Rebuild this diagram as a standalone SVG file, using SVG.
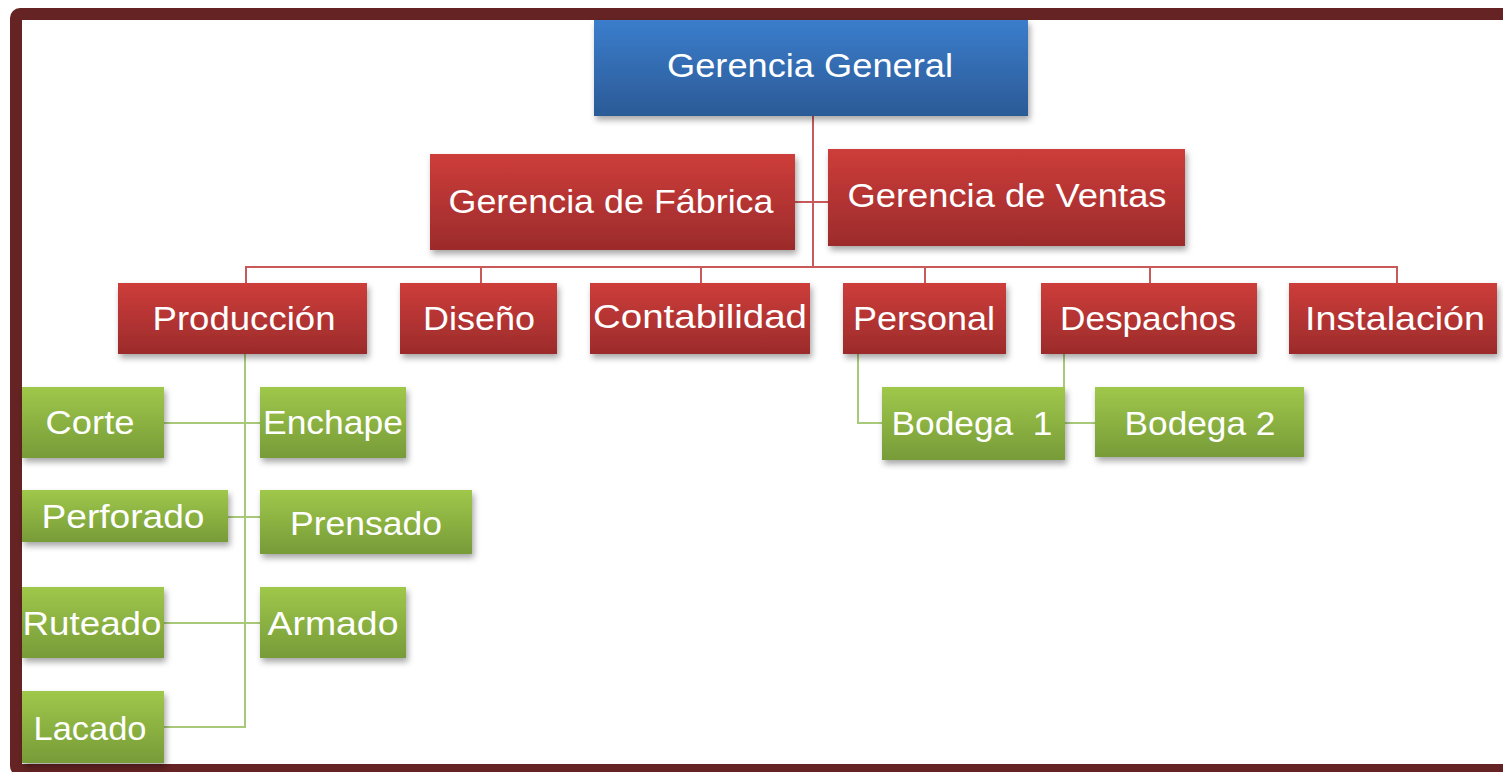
<svg xmlns="http://www.w3.org/2000/svg" width="1503" height="772" viewBox="0 0 1503 772">
<defs>
<linearGradient id="gBlue" x1="0" y1="0" x2="0" y2="1"><stop offset="0" stop-color="#3b7dcc"/><stop offset="1" stop-color="#2b5a96"/></linearGradient>
<linearGradient id="gRed" x1="0" y1="0" x2="0" y2="1"><stop offset="0" stop-color="#cd3d3a"/><stop offset="1" stop-color="#9c2b2b"/></linearGradient>
<linearGradient id="gGreen" x1="0" y1="0" x2="0" y2="1"><stop offset="0" stop-color="#9fc84b"/><stop offset="1" stop-color="#779b38"/></linearGradient>
<filter id="sh" x="-10%" y="-10%" width="125%" height="140%"><feDropShadow dx="2" dy="4" stdDeviation="3" flood-color="#000" flood-opacity="0.35"/></filter>
<style>
.t{font-family:"Liberation Sans",Arial,sans-serif;font-size:33px;fill:#ffffff;}
.red{fill:url(#gRed);filter:url(#sh);}
.blue{fill:url(#gBlue);filter:url(#sh);}
.green{fill:url(#gGreen);filter:url(#sh);}
.cr{stroke:#c95a5a;stroke-width:2;fill:none;}
.cg{stroke:#a9c97a;stroke-width:2;fill:none;}
</style>
</defs>
<rect x="0" y="0" width="1503" height="772" fill="#ffffff"/>
<rect x="16" y="14" width="1493" height="756" rx="4" fill="#ffffff" stroke="#652323" stroke-width="12"/>
<g id="connectors">
<path class="cr" d="M813 116 V267 M795 202 H828 M246 283 V267 H1397 V283 M481 267 V283 M701 267 V283 M925 267 V283 M1150 267 V283"/>
<path class="cg" d="M245 354 V727 H164 M164 423 H260 M228 517 H260 M164 623 H260 M858 354 V423 H882 M1064 354 V387 M1065 423 H1095"/>
</g>
<g id="n-gerencia-general"><rect class="blue" x="594" y="20" width="434" height="96"/><text class="t" x="810" y="77" text-anchor="middle" textLength="286" lengthAdjust="spacingAndGlyphs">Gerencia General</text></g>
<g id="n-fabrica"><rect class="red" x="430" y="154" width="365" height="96"/><text class="t" x="611" y="213" text-anchor="middle" textLength="325" lengthAdjust="spacingAndGlyphs">Gerencia de Fábrica</text></g>
<g id="n-ventas"><rect class="red" x="828" y="149" width="357" height="97"/><text class="t" x="1007" y="207" text-anchor="middle" textLength="319" lengthAdjust="spacingAndGlyphs">Gerencia de Ventas</text></g>
<g id="n-produccion"><rect class="red" x="118" y="283" width="249" height="71"/><text class="t" x="244" y="330" text-anchor="middle" textLength="183" lengthAdjust="spacingAndGlyphs">Producción</text></g>
<g id="n-diseno"><rect class="red" x="400" y="283" width="157" height="71"/><text class="t" x="479" y="330" text-anchor="middle" textLength="112" lengthAdjust="spacingAndGlyphs">Diseño</text></g>
<g id="n-contabilidad"><rect class="red" x="590" y="283" width="220" height="71"/><text class="t" x="700" y="328" text-anchor="middle" textLength="214" lengthAdjust="spacingAndGlyphs">Contabilidad</text></g>
<g id="n-personal"><rect class="red" x="843" y="283" width="163" height="71"/><text class="t" x="924" y="330" text-anchor="middle" textLength="142" lengthAdjust="spacingAndGlyphs">Personal</text></g>
<g id="n-despachos"><rect class="red" x="1041" y="283" width="216" height="71"/><text class="t" x="1148" y="330" text-anchor="middle" textLength="176" lengthAdjust="spacingAndGlyphs">Despachos</text></g>
<g id="n-instalacion"><rect class="red" x="1289" y="283" width="208" height="71"/><text class="t" x="1395" y="330" text-anchor="middle" textLength="180" lengthAdjust="spacingAndGlyphs">Instalación</text></g>
<g id="n-corte"><rect class="green" x="22" y="387" width="142" height="71"/><text class="t" x="90" y="434" text-anchor="middle" textLength="89" lengthAdjust="spacingAndGlyphs">Corte</text></g>
<g id="n-enchape"><rect class="green" x="260" y="387" width="146" height="71"/><text class="t" x="333" y="434" text-anchor="middle" textLength="140" lengthAdjust="spacingAndGlyphs">Enchape</text></g>
<g id="n-perforado"><rect class="green" x="22" y="490" width="206" height="52"/><text class="t" x="123" y="528" text-anchor="middle" textLength="163" lengthAdjust="spacingAndGlyphs">Perforado</text></g>
<g id="n-prensado"><rect class="green" x="260" y="490" width="212" height="64"/><text class="t" x="366" y="535" text-anchor="middle" textLength="152" lengthAdjust="spacingAndGlyphs">Prensado</text></g>
<g id="n-ruteado"><rect class="green" x="22" y="587" width="142" height="71"/><text class="t" x="92" y="635" text-anchor="middle" textLength="139" lengthAdjust="spacingAndGlyphs">Ruteado</text></g>
<g id="n-armado"><rect class="green" x="260" y="587" width="146" height="71"/><text class="t" x="333" y="635" text-anchor="middle" textLength="131" lengthAdjust="spacingAndGlyphs">Armado</text></g>
<g id="n-lacado"><rect class="green" x="22" y="691" width="142" height="72"/><text class="t" x="90" y="740" text-anchor="middle" textLength="113" lengthAdjust="spacingAndGlyphs">Lacado</text></g>
<g id="n-bodega1"><rect class="green" x="882" y="387" width="183" height="73"/><text class="t" x="972" y="435" text-anchor="middle" textLength="161" lengthAdjust="spacingAndGlyphs" xml:space="preserve">Bodega  1</text></g>
<g id="n-bodega2"><rect class="green" x="1095" y="387" width="209" height="70"/><text class="t" x="1200" y="435" text-anchor="middle" textLength="151" lengthAdjust="spacingAndGlyphs">Bodega 2</text></g>
</svg>
